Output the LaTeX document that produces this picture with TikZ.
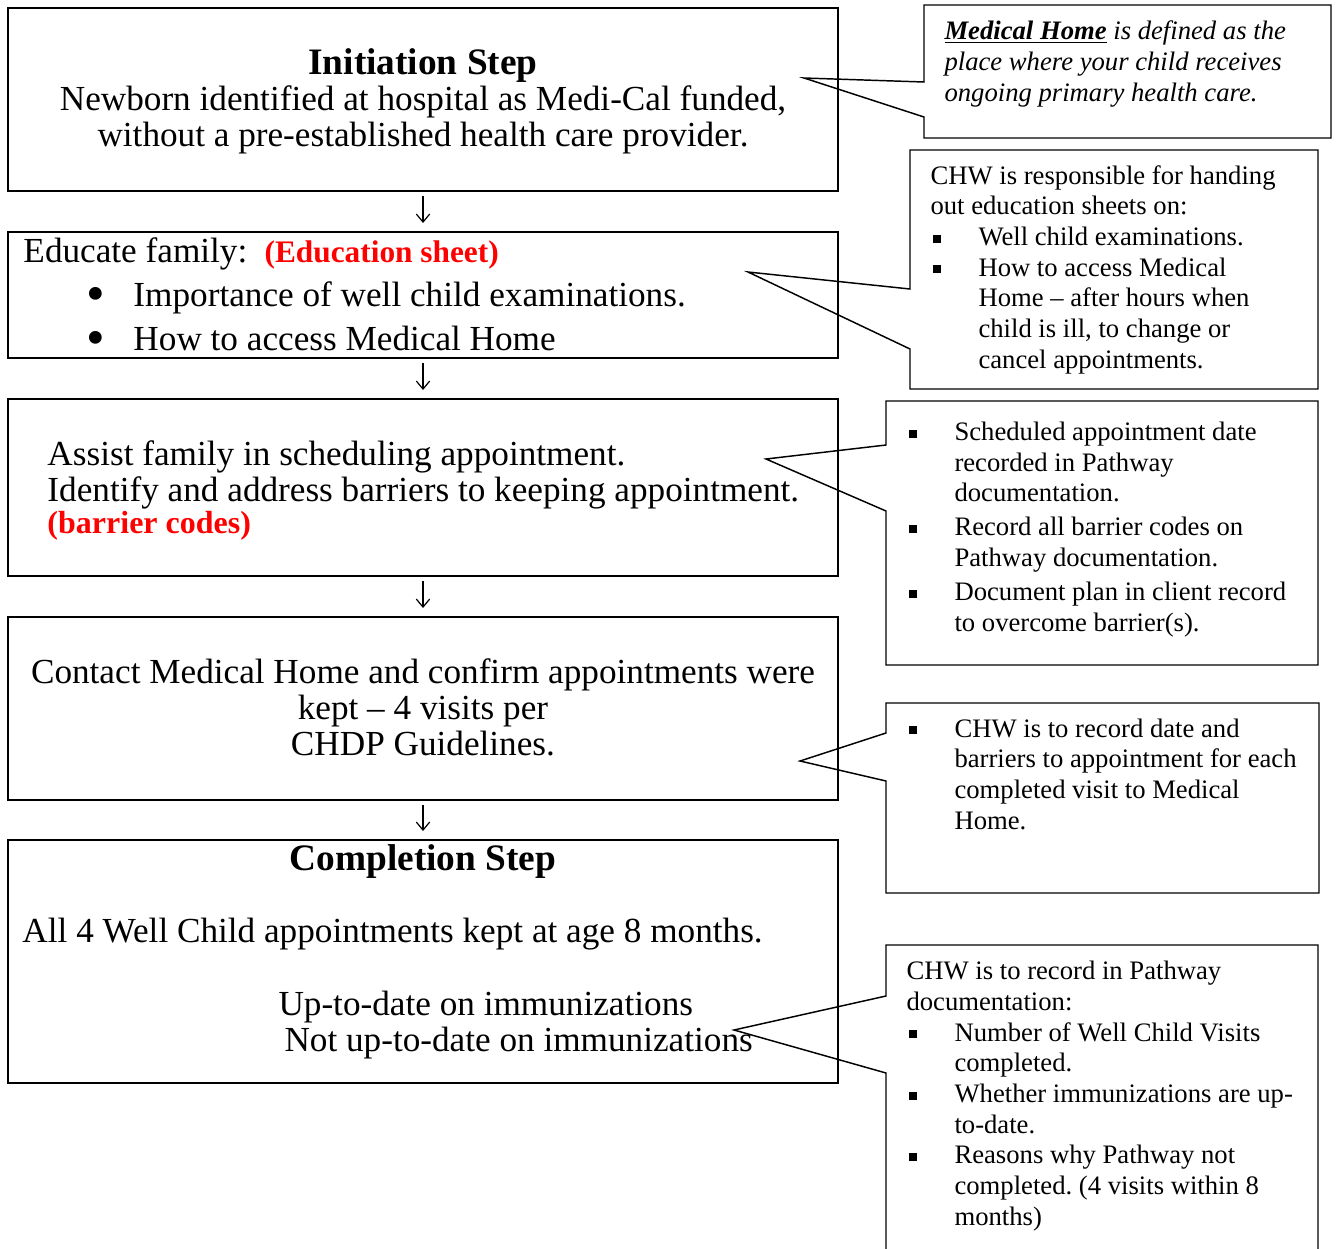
\documentclass[tikz,border=0pt]{standalone}
\usepackage{fontspec}
\setmainfont{Liberation Serif}
\usetikzlibrary{arrows.meta}
\frenchspacing

\definecolor{codered}{RGB}{255,0,0}
\newcommand{\sqb}{\makebox[36pt][l]{\hspace*{2pt}\rule[2pt]{6pt}{6pt}}}
\newcommand{\sqi}{\hspace*{36pt}}
\newcommand{\dotb}{\makebox[35.5pt][l]{\raisebox{-4pt}[0pt][0pt]{\fontsize{40}{27}\selectfont\textbullet}}}

\tikzset{every picture/.style={line width=0.75pt}}
\tikzset{
  stepbox/.style={draw, line width=1.5pt, minimum width=622.5pt, inner sep=0pt},
  steptext/.style={font=\fontsize{26.4}{27}\selectfont, inner sep=0pt},
  notetext/.style={font=\fontsize{20}{23}\selectfont, inner sep=0pt, align=left, anchor=base west},
  callout/.style={line width=1.1pt, line join=miter},
  flow/.style={-{Straight Barb[length=6pt,width=10pt]}, line width=0.9pt, shorten <=3pt, shorten >=6pt},
}

\begin{document}
\begin{tikzpicture}[x=0.75pt,y=0.75pt,yscale=-1,xscale=1]
  \useasboundingbox (0,0) rectangle (1336,1249);

  % step boxes
  \node[stepbox, minimum height=137.25pt] (init) at (423,99.5) {};
  \node[stepbox, minimum height=94.5pt] (edu) at (423,295) {};
  \node[stepbox, minimum height=132.75pt] (assist) at (423,487.5) {};
  \node[stepbox, minimum height=137.25pt] (contact) at (423,708.5) {};
  \node[stepbox, minimum height=182.25pt] (compl) at (423,961.5) {};

  % step texts (base = last line)
  \node[steptext, align=center, anchor=base] (initTxt) at (423,146)
    {{\bfseries\fontsize{28}{27}\selectfont Initiation Step}\\
     Newborn identified at hospital as Medi-Cal funded,\\
     without a pre-established health care provider.};
  \node[steptext, align=left, anchor=base west] (eduTxt) at (23,350)
    {Educate family:\hspace{13pt}{\color{codered}\bfseries\fontsize{23.5}{27}\selectfont (Education sheet)}\\[6pt]
     \hspace*{47pt}\dotb Importance of well child examinations.\\[6pt]
     \hspace*{47pt}\dotb How to access Medical Home};
  \node[steptext, align=left, anchor=base west] (assistTxt) at (47,533)
    {Assist family in scheduling appointment.\\
     Identify and address barriers to keeping appointment.\\[-3pt]
     {\color{codered}\bfseries\fontsize{24}{27}\selectfont (barrier codes)}};
  \node[steptext, align=center, anchor=base] (contactTxt) at (423,755)
    {Contact Medical Home and confirm appointments were\\
     kept -- 4 visits per\\
     CHDP Guidelines.};
  \node[steptext, anchor=base, font=\bfseries\fontsize{28}{27}\selectfont] (complHead) at (423,870) {Completion Step};
  \node[steptext, anchor=base west] (complMain) at (22,942) {All 4 Well Child appointments kept at age 8 months.};
  \node[steptext, align=left, anchor=base west] (complImm) at (278,1051)
    {Up-to-date on immunizations\\
     \hspace*{4.5pt}Not up-to-date on immunizations};

  % flow arrows
  \draw[flow] (init) -- (edu);
  \draw[flow] (edu) -- (assist);
  \draw[flow] (assist) -- (contact);
  \draw[flow] (contact) -- (compl);

  % note texts
  \node[notetext, font=\itshape\fontsize{20}{23}\selectfont] (homeNote) at (944,101)
    {\underline{\textbf{Medical Home}} is defined as the\\
     place where your child receives\\
     ongoing primary health care.};
  \node[notetext] (sheetNote) at (930,368)
    {CHW is responsible for handing\\
     out education sheets on:\\
     \sqb Well child examinations.\\
     \sqb How to access Medical\\
     \sqi Home -- after hours when\\
     \sqi child is ill, to change or\\
     \sqi cancel appointments.};
  \node[notetext] (apptNote) at (906,631)
    {\sqb Scheduled appointment date\\
     \sqi recorded in Pathway\\
     \sqi documentation.\\[2.5pt]
     \sqb Record all barrier codes on\\
     \sqi Pathway documentation.\\[2.5pt]
     \sqb Document plan in client record\\
     \sqi to overcome barrier(s).};
  \node[notetext] (visitNote) at (906,829)
    {\sqb CHW is to record date and\\
     \sqi barriers to appointment for each\\
     \sqi completed visit to Medical\\
     \sqi Home.};
  \node[notetext] (doneNote) at (906,1225)
    {CHW is to record in Pathway\\
     documentation:\\
     \sqb Number of Well Child Visits\\
     \sqi completed.\\
     \sqb Whether immunizations are up-\\
     \sqi to-date.\\
     \sqb Reasons why Pathway not\\
     \sqi completed. (4 visits within 8\\
     \sqi months)};

  % callout outlines
  \coordinate (tipA) at (804,78);
  \coordinate (tipB) at (748,272);
  \coordinate (tipC) at (766,459);
  \coordinate (tipD) at (800,761);
  \coordinate (tipE) at (734,1030);
  \draw[callout] (924,82) |- (1331,5) |- (924,138) -- (924,117) -- (tipA) -- cycle;
  \draw[callout] (910,289) |- (1318,150) |- (910,389) -- (910,349) -- (tipB) -- cycle;
  \draw[callout] (886,445) |- (1318,401) |- (886,665) -- (886,511) -- (tipC) -- cycle;
  \draw[callout] (886,733) |- (1319,703) |- (886,893) -- (886,781) -- (tipD) -- cycle;
  \draw[callout] (886,1262) -- (886,1073) -- (tipE) -- (886,996) |- (1318,945) -- (1318,1262);

\end{tikzpicture}
\end{document}
